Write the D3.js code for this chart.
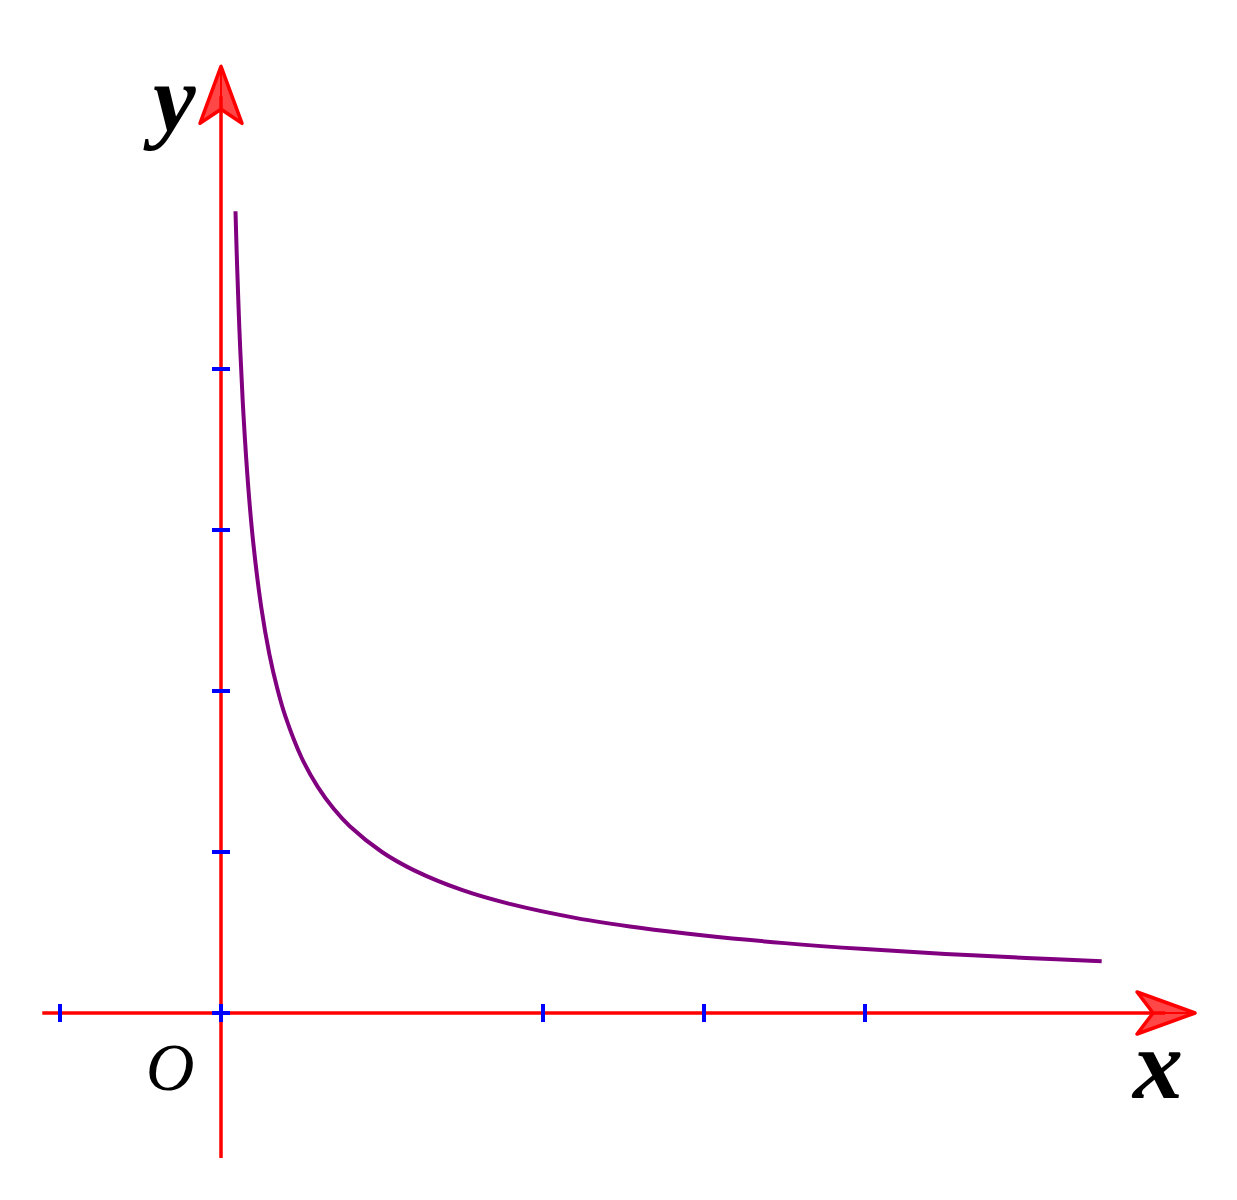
<!DOCTYPE html>
<html>
<head>
<meta charset="utf-8">
<script src="https://cdn.jsdelivr.net/npm/d3@7"></script>
<style>
  html, body { margin: 0; padding: 0; background: #fff; }
  svg { display: block; }
</style>
</head>
<body>
<div id="chart"></div>
<script>
// ---- data ----
const curveX = [0.09, 0.10, 0.11, 0.12, 0.14, 0.17, 0.20, 0.25, 0.30, 0.35, 0.40, 0.50, 0.60, 0.70, 0.80, 1.00, 1.20, 1.50, 1.80, 2.20, 2.60, 3.00, 3.50, 4.00, 4.50, 5.00, 5.47];
const curveY = [4.98, 4.642, 4.356, 4.110, 3.709, 3.259, 2.924, 2.520, 2.231, 2.014, 1.842, 1.587, 1.406, 1.268, 1.160, 1.000, 0.886, 0.763, 0.676, 0.591, 0.529, 0.481, 0.434, 0.397, 0.367, 0.342, 0.322];
const xTicks = [-1, 0, 2, 3, 4];
const yTicks = [0, 1, 2, 3, 4];
const xAxisRange = [-1.11, 6.05];
const yAxisRange = [-0.90, 5.88];
const labels = { x: "x", y: "y", origin: "O" };

const W = 1237, H = 1200;
const svg = d3.select("#chart").append("svg").attr("width", W).attr("height", H);

const x = d3.scaleLinear().domain([0, 1]).range([221, 382]);
const y = d3.scaleLinear().domain([0, 1]).range([1013, 852]);

const red = "#ff0000";

// axes lines
svg.append("line")
  .attr("x1", x(xAxisRange[0])).attr("x2", x(xAxisRange[1]) - 30)
  .attr("y1", y(0)).attr("y2", y(0))
  .attr("stroke", red).attr("stroke-width", 3.5);
svg.append("line")
  .attr("x1", x(0)).attr("x2", x(0))
  .attr("y1", y(yAxisRange[0])).attr("y2", y(yAxisRange[1]) + 30)
  .attr("stroke", red).attr("stroke-width", 3.5);

// arrowheads
const xt = [x(xAxisRange[1]), y(0)];
const xArrow = [[xt[0], xt[1]], [xt[0] - 58, xt[1] - 21], [xt[0] - 42, xt[1]], [xt[0] - 58, xt[1] + 21]];
const yt = [x(0), y(yAxisRange[1])];
const yArrow = [[yt[0], yt[1]], [yt[0] - 21, yt[1] + 57], [yt[0], yt[1] + 43], [yt[0] + 21, yt[1] + 57]];
[xArrow, yArrow].forEach(pts => {
  svg.append("path")
    .attr("d", "M" + pts.map(p => p.join(",")).join("L") + "Z")
    .attr("fill", "rgba(255,0,0,0.72)")
    .attr("stroke", red).attr("stroke-width", 3.5)
    .attr("stroke-linejoin", "round");
  svg.append("line")
    .attr("x1", pts[0][0]).attr("y1", pts[0][1])
    .attr("x2", pts[2][0]).attr("y2", pts[2][1])
    .attr("stroke", red).attr("stroke-width", 2);
});

// ticks
svg.selectAll(".xt").data(xTicks).join("line")
  .attr("x1", d => x(d)).attr("x2", d => x(d))
  .attr("y1", y(0) - 9).attr("y2", y(0) + 9)
  .attr("stroke", "#0000ff").attr("stroke-width", 4);
svg.selectAll(".yt").data(yTicks).join("line")
  .attr("x1", x(0) - 9).attr("x2", x(0) + 9)
  .attr("y1", d => y(d)).attr("y2", d => y(d))
  .attr("stroke", "#0000ff").attr("stroke-width", 4);

// curve
const pts = curveX.map((v, i) => [v, curveY[i]]);
svg.append("path")
  .datum(pts)
  .attr("d", d3.line().x(d => x(d[0])).y(d => y(d[1])).curve(d3.curveCatmullRom.alpha(0.5)))
  .attr("fill", "none")
  .attr("stroke", "#800080")
  .attr("stroke-width", 4);

// labels
const serif = "'Liberation Serif', 'DejaVu Serif', serif";
svg.append("text").text(labels.y)
  .attr("x", 153).attr("y", 131)
  .attr("font-family", serif).attr("font-size", 96)
  .attr("font-weight", "bold").attr("font-style", "italic").attr("fill", "#000");
svg.append("text").text(labels.x)
  .attr("x", 1133).attr("y", 1098)
  .attr("font-family", serif).attr("font-size", 100)
  .attr("font-weight", "bold").attr("font-style", "italic").attr("fill", "#000");
svg.append("text").text(labels.origin)
  .attr("x", 146).attr("y", 1090)
  .attr("font-family", serif).attr("font-size", 67)
  .attr("font-style", "italic").attr("fill", "#000");
</script>
</body>
</html>
